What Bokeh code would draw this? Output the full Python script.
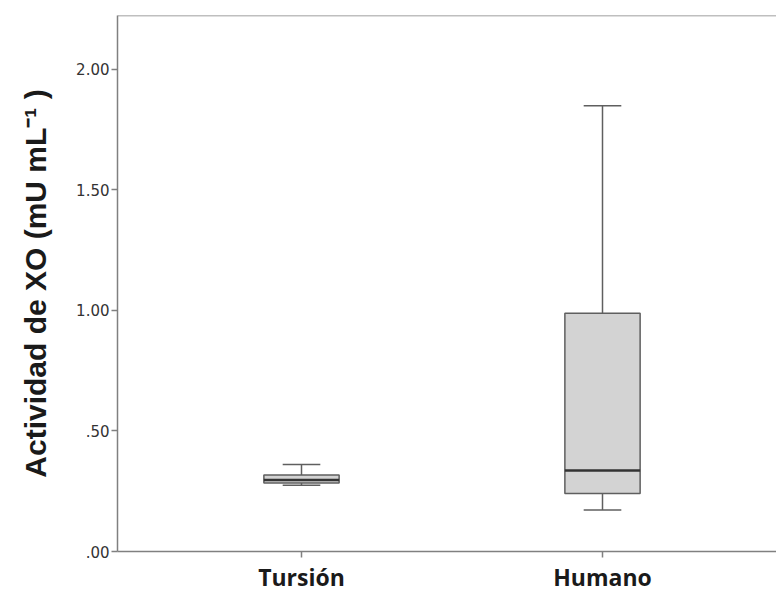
from bokeh.plotting import figure
from bokeh.models import Range1d, FixedTicker, Span, ColumnDataSource
from bokeh.embed import file_html
from bokeh.resources import INLINE

# ---- data ----
categories = ["Tursión", "Humano"]
lower_whisker = [0.275, 0.172]
q1 = [0.284, 0.240]
median = [0.296, 0.336]
q3 = [0.317, 0.988]
upper_whisker = [0.361, 1.848]
y_ticks = [0.0, 0.5, 1.0, 1.5, 2.0]
y_tick_labels = [".00", ".50", "1.00", "1.50", "2.00"]
y_label = "Actividad de XO (mU mL⁻¹ )"

# ---- styles ----
AXIS_COLOR = "#808080"
BOX_FILL = "#d3d3d3"
BOX_LINE = "#5f5f5f"
MEDIAN_COLOR = "#333333"
box_w = 0.25
cap_w = 0.125
y_top = 2.222

pos = [i + 1 for i in range(len(categories))]
src = ColumnDataSource(dict(
    x=pos,
    cx0=[x - cap_w / 2 for x in pos],
    cx1=[x + cap_w / 2 for x in pos],
    bx0=[x - box_w / 2 for x in pos],
    bx1=[x + box_w / 2 for x in pos],
    lw=lower_whisker, q1=q1, med=median, q3=q3, uw=upper_whisker,
))

p = figure(width=776, height=595, output_backend="svg", toolbar_location=None,
           x_range=Range1d(1 - 184 / 301, 2 + 174 / 301),
           y_range=Range1d(0, y_top),
           min_border_left=117, min_border_right=0,
           min_border_top=15, min_border_bottom=40)
p.outline_line_color = None
p.grid.visible = False
p.background_fill_color = "white"
p.border_fill_color = "white"

# whiskers
p.segment(x0="x", y0="q3", x1="x", y1="uw", source=src, line_color=BOX_LINE, line_width=1.5)
p.segment(x0="x", y0="lw", x1="x", y1="q1", source=src, line_color=BOX_LINE, line_width=1.5)
# caps
p.segment(x0="cx0", y0="uw", x1="cx1", y1="uw", source=src, line_color=BOX_LINE, line_width=1.5)
p.segment(x0="cx0", y0="lw", x1="cx1", y1="lw", source=src, line_color=BOX_LINE, line_width=1.5)
# boxes
p.vbar(x="x", width=box_w, bottom="q1", top="q3", source=src,
       fill_color=BOX_FILL, line_color=BOX_LINE, line_width=1.5)
# medians
p.segment(x0="bx0", y0="med", x1="bx1", y1="med", source=src, line_color=MEDIAN_COLOR, line_width=2.5)

# top frame line
p.add_layout(Span(location=y_top, dimension="width", line_color=AXIS_COLOR, line_width=1.5))

# y axis
ya = p.yaxis[0]
ya.ticker = FixedTicker(ticks=y_ticks)
ya.major_label_overrides = {t: l for t, l in zip(y_ticks, y_tick_labels)}
ya.minor_tick_line_color = None
ya.major_tick_in = 0
ya.major_tick_out = 6
ya.axis_line_color = AXIS_COLOR
ya.axis_line_width = 1.5
ya.major_tick_line_color = AXIS_COLOR
ya.major_tick_line_width = 1.5
ya.major_label_text_font = "DejaVu Sans"
ya.major_label_text_font_size = "15px"
ya.major_label_text_color = "#333333"
ya.major_label_standoff = 2
ya.axis_label = y_label
ya.axis_label_text_font = "Liberation Sans"
ya.axis_label_text_font_style = "bold"
ya.axis_label_text_font_size = "30px"
ya.axis_label_text_color = "#1a1a1a"
ya.axis_label_standoff = 21

# x axis
xa = p.xaxis[0]
xa.ticker = FixedTicker(ticks=pos)
xa.major_label_overrides = {x: c for x, c in zip(pos, categories)}
xa.minor_tick_line_color = None
xa.major_tick_in = 0
xa.major_tick_out = 6
xa.axis_line_color = AXIS_COLOR
xa.axis_line_width = 1.5
xa.major_tick_line_color = AXIS_COLOR
xa.major_tick_line_width = 1.5
xa.major_label_text_font = "Open Sans"
xa.major_label_text_font_style = "bold"
xa.major_label_text_font_size = "23px"
xa.major_label_text_color = "#1a1a1a"
xa.major_label_standoff = 3

open("out.html", "w").write(file_html(p, INLINE))
